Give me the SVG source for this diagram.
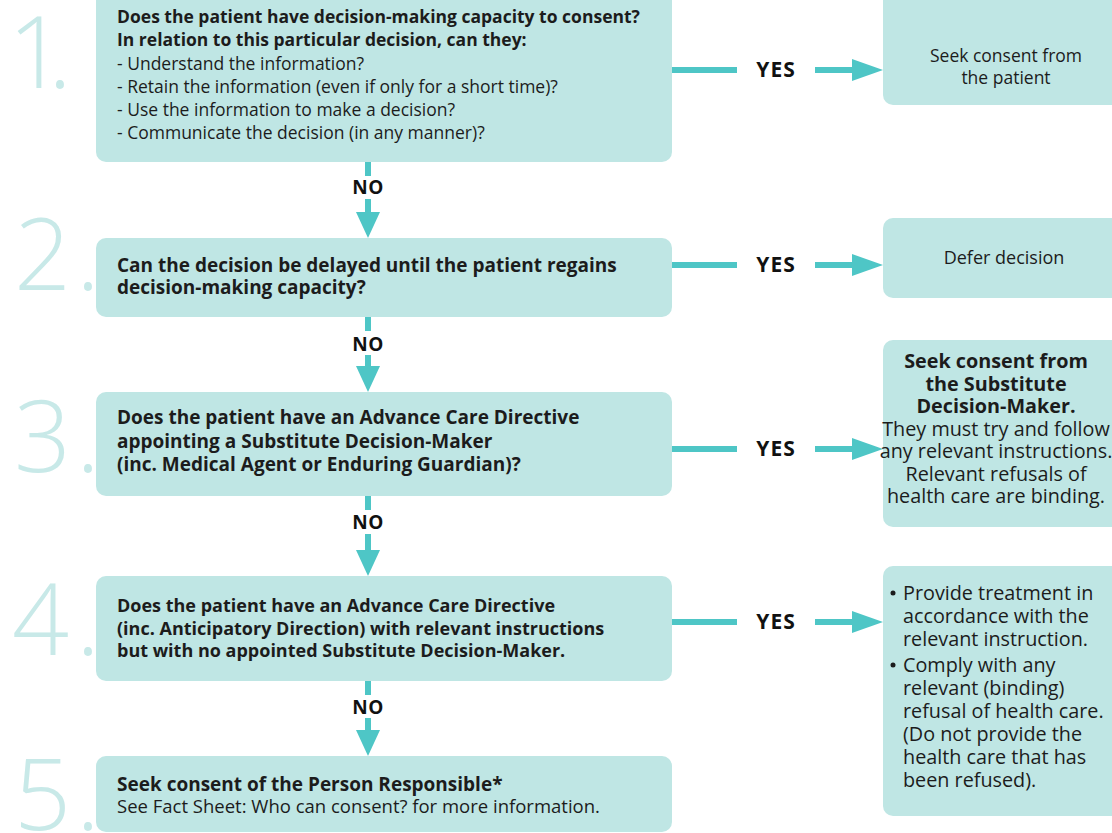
<svg xmlns="http://www.w3.org/2000/svg" width="1112" height="833" viewBox="0 0 1112 833">
<style>
.box{fill:#bfe6e4}
.num{font-family:"Open Sans","Lato",sans-serif;font-weight:300;font-size:100px;fill:#c8e9e8}
.t{font-family:"Open Sans","Noto Sans",sans-serif;font-size:17.5px;fill:#1c1c1c}
.m{font-size:19px}
.m4{font-size:18px}
.r{font-size:19.8px}
.b{font-weight:700}
.c{text-anchor:middle}
.lbl{font-family:"Open Sans","Noto Sans",sans-serif;font-weight:700;fill:#111;text-anchor:middle}
.yes{font-size:21px;letter-spacing:1px}
.no{font-size:19px;letter-spacing:0.5px}
.ln{stroke:#4ec6c6;stroke-width:6;fill:none}
.hd{fill:#4ec6c6}
</style>
<rect width="1112" height="833" fill="#ffffff"/>
<g id="step1">
<text class="num" x="8" y="88">1<tspan dx="-17">.</tspan></text>
<rect class="box" x="96" y="-10" width="576" height="172" rx="10"/>
<text class="t b" x="117" y="23">Does the patient have decision-making capacity to consent?</text>
<text class="t b" x="117" y="46">In relation to this particular decision, can they:</text>
<text class="t" x="117" y="70">- Understand the information?</text>
<text class="t" x="117" y="93">- Retain the information (even if only for a short time)?</text>
<text class="t" x="117" y="116">- Use the information to make a decision?</text>
<text class="t" x="117" y="139">- Communicate the decision (in any manner)?</text>
</g>
<g id="step2">
<text class="num" x="14" y="290">2<tspan dx="5">.</tspan></text>
<rect class="box" x="96" y="238" width="576" height="79" rx="10"/>
<text class="t m b" x="117" y="272">Can the decision be delayed until the patient regains</text>
<text class="t m b" x="117" y="294">decision-making capacity?</text>
</g>
<g id="step3">
<text class="num" x="14" y="472">3<tspan dx="5">.</tspan></text>
<rect class="box" x="96" y="392" width="576" height="104" rx="10"/>
<text class="t m b" x="117" y="424">Does the patient have an Advance Care Directive</text>
<text class="t m b" x="117" y="448">appointing a Substitute Decision-Maker</text>
<text class="t m b" x="117" y="471">(inc. Medical Agent or Enduring Guardian)?</text>
</g>
<g id="step4">
<text class="num" x="12" y="655">4<tspan dx="7">.</tspan></text>
<rect class="box" x="96" y="576" width="576" height="105" rx="10"/>
<text class="t m4 b" x="117" y="612">Does the patient have an Advance Care Directive</text>
<text class="t m4 b" x="117" y="635">(inc. Anticipatory Direction) with relevant instructions</text>
<text class="t m4 b" x="117" y="657">but with no appointed Substitute Decision-Maker.</text>
</g>
<g id="step5">
<text class="num" x="14" y="830">5<tspan dx="5">.</tspan></text>
<rect class="box" x="96" y="756" width="576" height="76" rx="10"/>
<text class="t m b" x="117" y="791">Seek consent of the Person Responsible*</text>
<text class="t" x="117" y="813" style="font-size:18.5px">See Fact Sheet: Who can consent? for more information.</text>
</g>
<g id="out1">
<rect class="box" x="883" y="-10" width="240" height="115" rx="10"/>
<text class="t c" x="1006" y="62">Seek consent from</text>
<text class="t c" x="1006" y="84">the patient</text>
</g>
<g id="out2">
<rect class="box" x="883" y="218" width="240" height="80" rx="10"/>
<text class="t c" x="1004" y="264" style="font-size:18px">Defer decision</text>
</g>
<g id="out3">
<rect class="box" x="883" y="340" width="240" height="187" rx="10"/>
<text class="t r c b" x="996" y="368">Seek consent from</text>
<text class="t r c b" x="996" y="390.5">the Substitute</text>
<text class="t r c b" x="996" y="413">Decision-Maker.</text>
<text class="t r c" x="996" y="435.5">They must try and follow</text>
<text class="t r c" x="996" y="458">any relevant instructions.</text>
<text class="t r c" x="996" y="480.5">Relevant refusals of</text>
<text class="t r c" x="996" y="503">health care are binding.</text>
</g>
<g id="out4">
<rect class="box" x="883" y="566" width="240" height="250" rx="10"/>
<circle cx="893" cy="593" r="2.5" fill="#1c1c1c"/>
<text class="t r" x="903" y="600">Provide treatment in</text>
<text class="t r" x="903" y="623">accordance with the</text>
<text class="t r" x="903" y="646">relevant instruction.</text>
<circle cx="893" cy="665" r="2.5" fill="#1c1c1c"/>
<text class="t r" x="903" y="672">Comply with any</text>
<text class="t r" x="903" y="695">relevant (binding)</text>
<text class="t r" x="903" y="718">refusal of health care.</text>
<text class="t r" x="903" y="741">(Do not provide the</text>
<text class="t r" x="903" y="764">health care that has</text>
<text class="t r" x="903" y="787">been refused).</text>
</g>
<g id="connectors">
<path class="ln" d="M672 70H737M815 70H854"/>
<polygon class="hd" points="852,59 883,70 852,81"/>
<text class="lbl yes" x="776" y="77">YES</text>
<path class="ln" d="M672 265H737M815 265H854"/>
<polygon class="hd" points="852,254 883,265 852,276"/>
<text class="lbl yes" x="776" y="272">YES</text>
<path class="ln" d="M672 449H737M815 449H854"/>
<polygon class="hd" points="852,438 883,449 852,460"/>
<text class="lbl yes" x="776" y="456">YES</text>
<path class="ln" d="M672 622H737M815 622H854"/>
<polygon class="hd" points="852,611 883,622 852,633"/>
<text class="lbl yes" x="776" y="629">YES</text>
<path class="ln" d="M368 162V176M368 199V214"/>
<polygon class="hd" points="356,212 380,212 368,238"/>
<text class="lbl no" x="368" y="194">NO</text>
<path class="ln" d="M368 317V331M368 355V368"/>
<polygon class="hd" points="356,366 380,366 368,392"/>
<text class="lbl no" x="368" y="351">NO</text>
<path class="ln" d="M368 496V510M368 534V552"/>
<polygon class="hd" points="356,550 380,550 368,576"/>
<text class="lbl no" x="368" y="529">NO</text>
<path class="ln" d="M368 681V695M368 718V732"/>
<polygon class="hd" points="356,730 380,730 368,756"/>
<text class="lbl no" x="368" y="714">NO</text>
</g>
</svg>
